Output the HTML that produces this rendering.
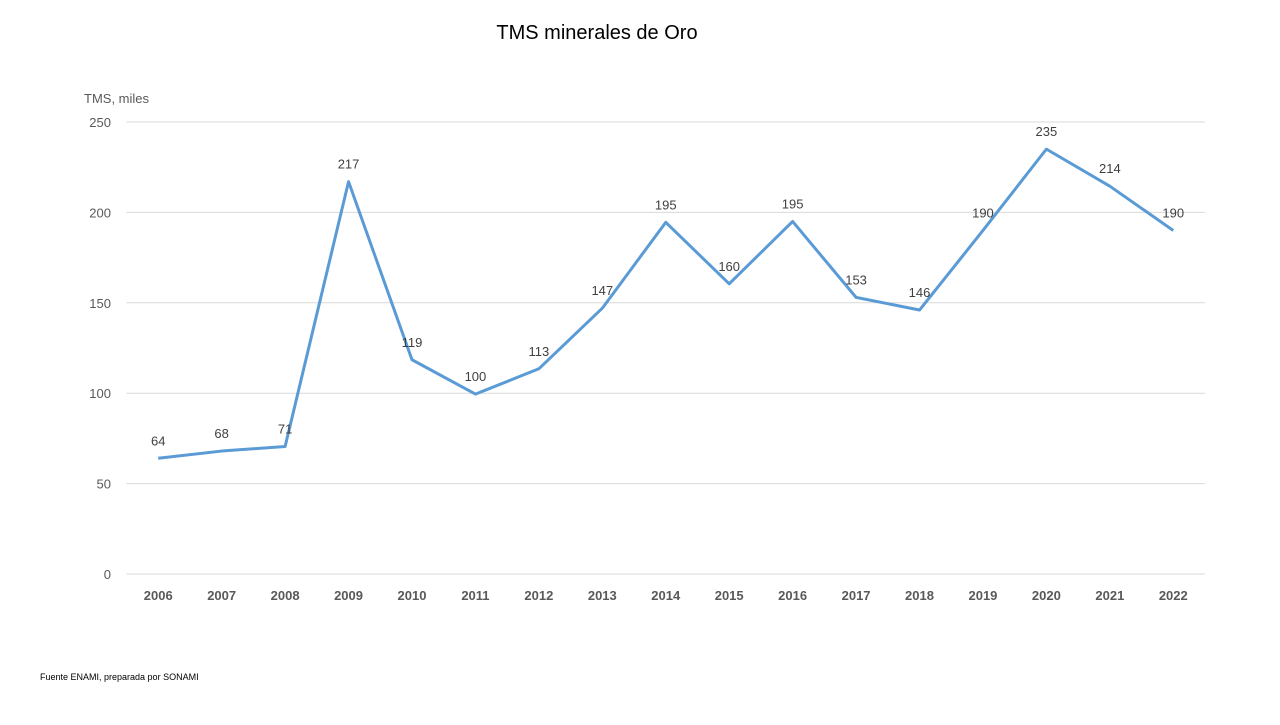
<!DOCTYPE html>
<html><head><meta charset="utf-8"><style>
body{margin:0;background:#fff;font-family:"Liberation Sans",sans-serif}
svg text{font-family:"Liberation Sans",sans-serif}
</style></head><body>
<svg width="1280" height="720" xmlns="http://www.w3.org/2000/svg">
<text x="597" y="39" text-anchor="middle" font-size="20" fill="#000">TMS minerales de  Oro</text>
<text x="84" y="103" font-size="13" fill="#595959">TMS, miles</text>
<g id="grid"></g><g id="yt"></g><g id="xt"></g>
<path id="line" fill="none" stroke="#5b9bd5" stroke-width="3" stroke-linejoin="round"/>
<g id="lbl"></g>
<text x="40" y="680" font-size="9" fill="#000">Fuente ENAMI, preparada por SONAMI</text>
</svg>
<script>
const categories=["2006","2007","2008","2009","2010","2011","2012","2013","2014","2015","2016","2017","2018","2019","2020","2021","2022"];
const values=[64,68,70.5,217,118.5,99.5,113.5,147,194.5,160.5,195,153,146,190,235,214.5,190];
const valueLabels=["64","68","71","217","119","100","113","147","195","160","195","153","146","190","235","214","190"];
const yTicks=[0,50,100,150,200,250];
const NS="http://www.w3.org/2000/svg";
const L=126.5,R=1205,T=122,B=574,yMax=250;
const step=(R-L)/categories.length;
const x=i=>L+step*(i+0.5);
const y=v=>B-(v/yMax)*(B-T);
function mk(t,a,p){const e=document.createElementNS(NS,t);for(const k in a)e.setAttribute(k,a[k]);p.appendChild(e);return e;}
const grid=document.getElementById('grid'),yt=document.getElementById('yt'),xt=document.getElementById('xt'),lbl=document.getElementById('lbl');
yTicks.forEach(v=>{
 const g=mk('line',{x1:L,x2:R,y1:y(v),y2:y(v),stroke:'#d9d9d9','stroke-width':1},grid);
 
 
 const t=mk('text',{x:111,y:y(v)+5,'text-anchor':'end','font-size':13,fill:'#595959'},yt);
 t.textContent=v;
 
 
});
categories.forEach((c,i)=>{
 const t=mk('text',{x:x(i),y:600,'text-anchor':'middle','font-size':13,'font-weight':'bold',fill:'#595959'},xt);
 t.textContent=c;
 
 
 const d=mk('text',{x:x(i),y:y(values[i])-13,'text-anchor':'middle','font-size':13,fill:'#404040'},lbl);
 d.textContent=valueLabels[i];
 
 
});
document.getElementById('line').setAttribute('d',values.map((v,i)=>(i?'L':'M')+x(i)+','+y(v)).join(''));
</script>
</body></html>
